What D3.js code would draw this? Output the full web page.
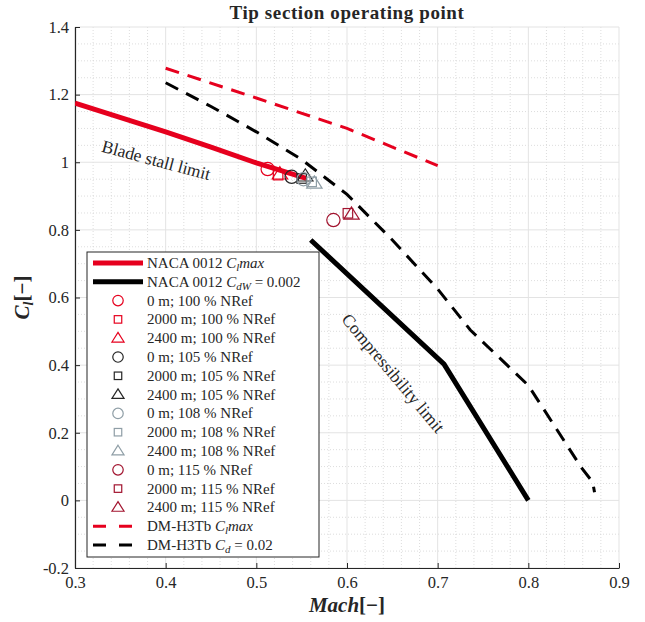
<!DOCTYPE html>
<html>
<head>
<meta charset="utf-8">
<script src="https://cdn.jsdelivr.net/npm/d3@7/dist/d3.min.js"></script>
<style>
  html, body { margin: 0; padding: 0; background: #fff; }
  svg text { font-family: "Liberation Serif", "Times New Roman", serif; fill: #262626; }
</style>
</head>
<body>
<svg id="chart" width="645" height="622"></svg>
<script>
// ---- data -------------------------------------------------------------
const xTicks = [0.3, 0.4, 0.5, 0.6, 0.7, 0.8, 0.9];
const xTickLabels = ["0.3", "0.4", "0.5", "0.6", "0.7", "0.8", "0.9"];
const yTicks = [-0.2, 0, 0.2, 0.4, 0.6, 0.8, 1.0, 1.2, 1.4];
const yTickLabels = ["-0.2", "0", "0.2", "0.4", "0.6", "0.8", "1", "1.2", "1.4"];

// NACA 0012 stall boundary (Cl max vs Mach)
const nacaClmax = [[0.30, 1.175], [0.40, 1.09], [0.45, 1.045], [0.50, 0.998], [0.555, 0.952]];
// NACA 0012 drag-divergence boundary, Cd wave = 0.002
const nacaCdW = [[0.56, 0.77], [0.707, 0.403], [0.80, 0.0]];
// DM-H3Tb stall boundary
const dmClmax = [[0.40, 1.278], [0.50, 1.19], [0.60, 1.10], [0.70, 0.99]];
// DM-H3Tb Cd = 0.02 boundary
const dmCd = [[0.40, 1.235], [0.45, 1.165], [0.50, 1.09], [0.55, 1.008], [0.60, 0.905],
              [0.65, 0.77], [0.70, 0.625], [0.736, 0.504], [0.80, 0.34], [0.827, 0.228],
              [0.859, 0.095], [0.871, 0.054], [0.873, 0.024]];

// Tip operating points: altitude / rotor speed cases
const pointLabels = ["0 m; 100 % NRef", "2000 m; 100 % NRef", "2400 m; 100 % NRef",
                     "0 m; 105 % NRef", "2000 m; 105 % NRef", "2400 m; 105 % NRef",
                     "0 m; 108 % NRef", "2000 m; 108 % NRef", "2400 m; 108 % NRef",
                     "0 m; 115 % NRef", "2000 m; 115 % NRef", "2400 m; 115 % NRef"];
const pointMach = [0.5125, 0.524, 0.526, 0.539, 0.550, 0.554, 0.552, 0.561, 0.564, 0.585, 0.601, 0.605];
const pointCl   = [0.980, 0.962, 0.965, 0.957, 0.952, 0.959, 0.950, 0.942, 0.938, 0.829, 0.849, 0.846];
const pointShape = ["circle", "square", "triangle", "circle", "square", "triangle",
                    "circle", "square", "triangle", "circle", "square", "triangle"];
const pointGroup = [0, 0, 0, 1, 1, 1, 2, 2, 2, 3, 3, 3];

const groupColors = ["#e6001e", "#262626", "#8f9ea6", "#a2142f"];
const red = "#e6001e", black = "#000000";

// ---- layout ------------------------------------------------------------
const svg = d3.select("#chart");
const L = 75, R = 619, T = 27, B = 568;
const x = d3.scaleLinear([0.3, 0.9], [L, R]);
const y = d3.scaleLinear([-0.2, 1.4], [B, T]);

// grid: minor dotted, major solid
const grid = svg.append("g");
const minorX = d3.range(0.32, 0.9, 0.02).filter(v => Math.abs(v * 10 - Math.round(v * 10)) > 1e-6);
const minorY = d3.range(-0.15, 1.4, 0.05).filter(v => Math.abs(v * 5 - Math.round(v * 5)) > 1e-6);
grid.selectAll(".mx").data(minorX).join("line")
  .attr("x1", d => x(d)).attr("x2", d => x(d)).attr("y1", T).attr("y2", B)
  .attr("stroke", "#d4d4d4").attr("stroke-width", 0.8).attr("stroke-dasharray", "1,2");
grid.selectAll(".my").data(minorY).join("line")
  .attr("y1", d => y(d)).attr("y2", d => y(d)).attr("x1", L).attr("x2", R)
  .attr("stroke", "#d4d4d4").attr("stroke-width", 0.8).attr("stroke-dasharray", "1,2");
grid.selectAll(".gx").data(xTicks).join("line")
  .attr("x1", d => x(d)).attr("x2", d => x(d)).attr("y1", T).attr("y2", B)
  .attr("stroke", "#e3e3e3").attr("stroke-width", 1);
grid.selectAll(".gy").data(yTicks).join("line")
  .attr("y1", d => y(d)).attr("y2", d => y(d)).attr("x1", L).attr("x2", R)
  .attr("stroke", "#e3e3e3").attr("stroke-width", 1);

// axes (inward ticks, left and bottom only)
const xAxis = d3.axisBottom(x).tickValues(xTicks).tickFormat((d, i) => xTickLabels[i])
  .tickSizeInner(-5).tickSizeOuter(0).tickPadding(8);
const yAxis = d3.axisLeft(y).tickValues(yTicks).tickFormat((d, i) => yTickLabels[i])
  .tickSizeInner(-5).tickSizeOuter(0).tickPadding(6);
const gx = svg.append("g").attr("transform", `translate(0,${B})`).call(xAxis);
const gy = svg.append("g").attr("transform", `translate(${L},0)`).call(yAxis);
[gx, gy].forEach(g => {
  g.select(".domain").attr("stroke", "#262626").attr("stroke-width", 1.2);
  g.selectAll(".tick line").attr("stroke", "#262626");
  g.selectAll(".tick text").attr("font-family", "Liberation Serif").attr("font-size", 16.5).attr("fill", "#262626");
});

// clip for data
svg.append("clipPath").attr("id", "plotclip").append("rect")
  .attr("x", L).attr("y", T).attr("width", R - L).attr("height", B - T);
const plot = svg.append("g").attr("clip-path", "url(#plotclip)");

const line = d3.line().x(d => x(d[0])).y(d => y(d[1]));

plot.append("path").datum(nacaClmax).attr("d", line)
  .attr("fill", "none").attr("stroke", red).attr("stroke-width", 5);
plot.append("path").datum(nacaCdW).attr("d", line)
  .attr("fill", "none").attr("stroke", black).attr("stroke-width", 5);

// marker symbols
function drawMarker(g, shape, cx, cy, color, s) {
  if (shape === "circle") {
    g.append("circle").attr("cx", cx).attr("cy", cy).attr("r", s * 0.95)
      .attr("fill", "none").attr("stroke", color).attr("stroke-width", 1.2);
  } else if (shape === "square") {
    const h = s * 0.68;
    g.append("rect").attr("x", cx - h).attr("y", cy - h).attr("width", 2 * h).attr("height", 2 * h)
      .attr("fill", "none").attr("stroke", color).attr("stroke-width", 1.2);
  } else {
    const w = s * 1.1, ht = s * 1.75;
    g.append("path")
      .attr("d", `M${cx},${cy - ht * 0.6}L${cx + w},${cy + ht * 0.4}L${cx - w},${cy + ht * 0.4}Z`)
      .attr("fill", "none").attr("stroke", color).attr("stroke-width", 1.2);
  }
}
pointMach.forEach((m, i) => {
  drawMarker(plot, pointShape[i], x(m), y(pointCl[i]), groupColors[pointGroup[i]], 7);
});

plot.append("path").datum(dmClmax).attr("d", line)
  .attr("fill", "none").attr("stroke", red).attr("stroke-width", 3)
  .attr("stroke-dasharray", "14,9");
plot.append("path").datum(dmCd).attr("d", line)
  .attr("fill", "none").attr("stroke", black).attr("stroke-width", 3)
  .attr("stroke-dasharray", "14,9");

// annotations
svg.append("text")
  .attr("transform", `translate(${x(0.3283)},${y(1.032)}) rotate(15)`)
  .attr("font-size", 17.5).text("Blade stall limit");
svg.append("text")
  .attr("transform", `translate(${x(0.593)},${y(0.534)}) rotate(50)`)
  .attr("font-size", 17.5).text("Compressibility limit");

// title and axis labels
svg.append("text").attr("x", (L + R) / 2).attr("y", 19).attr("text-anchor", "middle")
  .attr("font-size", 19).attr("font-weight", "bold").attr("letter-spacing", 0.6)
  .text("Tip section operating point");

const xl = svg.append("text").attr("x", (L + R) / 2).attr("y", 612).attr("text-anchor", "middle")
  .attr("font-size", 21).attr("font-weight", "bold");
xl.append("tspan").attr("font-style", "italic").text("Mach");
xl.append("tspan").text("[−]");

const yl = svg.append("text").attr("transform", `translate(29,${(T + B) / 2}) rotate(-90)`)
  .attr("text-anchor", "middle").attr("font-size", 21).attr("font-weight", "bold");
yl.append("tspan").attr("font-style", "italic").text("C");
yl.append("tspan").attr("font-style", "italic").attr("font-size", 14).attr("dy", 4).text("l");
yl.append("tspan").attr("dy", -4).text("[−]");

// ---- legend ------------------------------------------------------------
const legend = svg.append("g");
const lgX = 87, lgY = 252, lgW = 232, lgH = 305;
legend.append("rect").attr("x", lgX).attr("y", lgY).attr("width", lgW).attr("height", lgH)
  .attr("fill", "#fff").attr("stroke", "#262626").attr("stroke-width", 1);

const rowH = 18.8, row0 = 263;
const entries = [];
entries.push({ kind: "line", color: red, width: 5, dash: null, label: ["NACA 0012 ", "C", "l", "max", null] });
entries.push({ kind: "line", color: black, width: 5, dash: null, label: ["NACA 0012 ", "C", "dW", "", " = 0.002"] });
pointLabels.forEach((t, i) => entries.push({ kind: "marker", shape: pointShape[i], color: groupColors[pointGroup[i]], text: t }));
entries.push({ kind: "line", color: red, width: 3, dash: true, label: ["DM-H3Tb ", "C", "l", "max", null] });
entries.push({ kind: "line", color: black, width: 3, dash: true, label: ["DM-H3Tb ", "C", "d", "", " = 0.02"] });

entries.forEach((e, i) => {
  const cy = row0 + i * rowH;
  if (e.kind === "line") {
    const ln = legend.append("line").attr("x1", 93).attr("x2", 143).attr("y1", cy).attr("y2", cy)
      .attr("stroke", e.color).attr("stroke-width", e.width);
    if (e.dash) ln.attr("x2", 132).attr("stroke-dasharray", "13,13");
    const t = legend.append("text").attr("x", 147).attr("y", cy + 5).attr("font-size", 15);
    t.append("tspan").text(e.label[0]);
    t.append("tspan").attr("font-style", "italic").text(e.label[1]);
    t.append("tspan").attr("font-style", "italic").attr("font-size", 11).attr("dy", 3).text(e.label[2]);
    const after = t.append("tspan").attr("dy", -3);
    if (e.label[3]) after.attr("font-style", "italic").text(e.label[3]);
    if (e.label[4]) {
      if (e.label[3]) t.append("tspan").text(e.label[4]);
      else after.attr("xml:space", "preserve").text("\u00a0=\u00a0" + e.label[4].replace(" = ", ""));
    }
  } else {
    drawMarker(legend, e.shape, 118, cy, e.color, 5.5);
    legend.append("text").attr("x", 147).attr("y", cy + 5).attr("font-size", 15).text(e.text);
  }
});
</script>
</body>
</html>
